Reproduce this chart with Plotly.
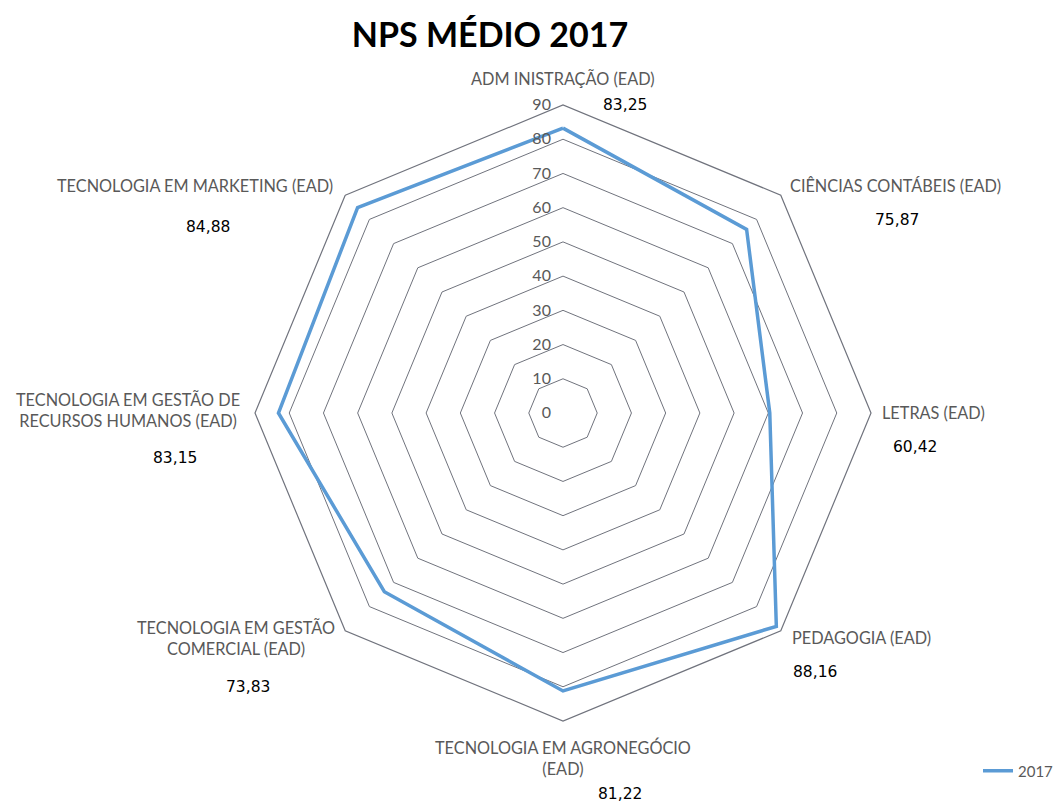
import plotly.graph_objects as go

categories = [
    "ADM INISTRAÇÃO (EAD)",
    "CIÊNCIAS CONTÁBEIS (EAD)",
    "LETRAS (EAD)",
    "PEDAGOGIA (EAD)",
    "TECNOLOGIA EM AGRONEGÓCIO<br>(EAD)",
    "TECNOLOGIA EM GESTÃO<br>COMERCIAL (EAD)",
    "TECNOLOGIA EM GESTÃO DE<br>RECURSOS HUMANOS (EAD)",
    "TECNOLOGIA EM MARKETING (EAD)",
]
values_2017 = [83.25, 75.87, 60.42, 88.16, 81.22, 73.83, 83.15, 84.88]
radial_ticks = [0, 10, 20, 30, 40, 50, 60, 70, 80, 90]
series_name = "2017"
title_text = "NPS MÉDIO 2017"

W, H = 1059, 802
CX, CY, R = 563, 413, 308  # polar centre / radius in px

def px(x, y):
    return x / W, 1 - y / H

# label placement (layout only): pixel offsets from chart centre + anchor
cat_label_pos = [(0, -335, "center"), (225, -228, "left"), (317, -1, "left"),
                 (227, 224, "left"), (0, 344, "center"), (-226, 225, "right"),
                 (-321, -3, "right"), (-228, -228, "right")]
value_label_offsets = [(62, -308), (334, -193), (352, 34), (252, 259),
                       (57, 381), (-315, 274), (-388, 45), (-355, -186)]

LABEL_FONT = "Lato, Open Sans, sans-serif"

def fmt(v):
    return f"{v:.2f}".replace(".", ",")

fig = go.Figure()
fig.add_trace(go.Scatterpolar(
    r=values_2017 + [values_2017[0]],
    theta=categories + [categories[0]],
    mode="lines",
    name=series_name,
    line=dict(color="#5B9BD5", width=3.5),
    showlegend=True,
    hoverinfo="r+theta",
))

annotations = []
for cat, (dx, dy, anc) in zip(categories, cat_label_pos):
    x, y = px(CX + dx, CY + dy)
    annotations.append(dict(
        x=x, y=y, xref="paper", yref="paper", text=cat, showarrow=False,
        font=dict(family=LABEL_FONT, size=16.3, color="#595959"),
        xanchor=anc, yanchor="middle", align="center",
    ))
for v, (dx, dy) in zip(values_2017, value_label_offsets):
    x, y = px(CX + dx, CY + dy)
    annotations.append(dict(
        x=x, y=y, xref="paper", yref="paper", text=fmt(v), showarrow=False,
        font=dict(family="DejaVu Sans, sans-serif", size=15.5, color="#000000"),
        xanchor="center", yanchor="middle",
    ))

x0, y1 = px(CX - R, CY - R)
x1, y0 = px(CX + R, CY + R)

fig.update_layout(
    width=W, height=H,
    paper_bgcolor="white", plot_bgcolor="white",
    margin=dict(l=0, r=0, t=0, b=0),
    title=dict(text=f"<b>{title_text}</b>", x=490 / W, xanchor="center",
               y=1 - 35 / H, yanchor="middle",
               font=dict(family=LABEL_FONT, size=34, color="#000000")),
    polar=dict(
        domain=dict(x=[x0, x1], y=[y0, y1]),
        bgcolor="white",
        gridshape="linear",
        radialaxis=dict(
            range=[0, 90], tickvals=radial_ticks, showline=False,
            gridcolor="#70737d", gridwidth=1.2, angle=90, tickangle=90,
            side="counterclockwise", ticks="outside", ticklen=6,
            tickcolor="rgba(0,0,0,0)",
            tickfont=dict(family=LABEL_FONT, size=16, color="#595959"),
        ),
        angularaxis=dict(
            direction="clockwise", rotation=90, showgrid=False,
            linecolor="#70737d", linewidth=1.2, ticks="",
            showticklabels=False,
        ),
    ),
    legend=dict(x=1, xanchor="right", y=1 - 771 / H, yanchor="middle",
                font=dict(family=LABEL_FONT, size=15, color="#595959"),
                bgcolor="rgba(0,0,0,0)", itemwidth=30),
    annotations=annotations,
)

fig.write_html("out.html", config={"displayModeBar": False},
               post_script="document.body.style.margin='0px';")
